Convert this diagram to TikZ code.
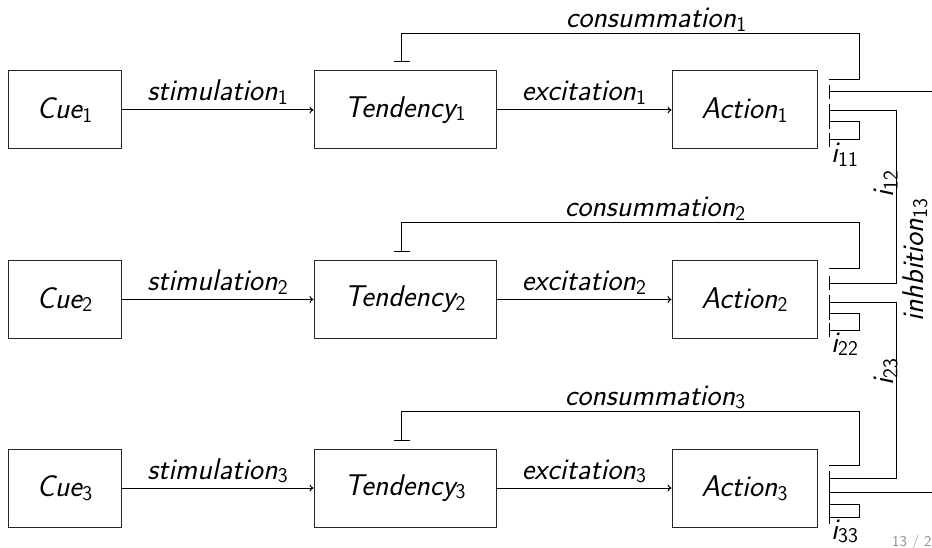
\documentclass[tikz,border=0pt]{standalone}
\usetikzlibrary{arrows.meta,calc}
\newcommand\lab[2]{#1\kern0.3pt\raisebox{-0.12em}{\fontsize{21}{21}\selectfont\upshape #2}}
\begin{document}
\begin{tikzpicture}[x=1pt,y=-1pt,
  txt/.style={font=\fontsize{30}{34}\selectfont\sffamily\slshape, inner sep=0pt},
  box/.style={txt, draw=black!85, line width=1pt, minimum height=78pt},
  conn/.style={line width=1pt, black},
  exc/.style={conn, -{To[length=4pt,width=7pt]}},
  inh/.style={conn, -{Bar[width=16pt,line width=1pt]}},
  inh2/.style={conn, {Bar[width=14pt,line width=1pt]}-{Bar[width=14pt,line width=1pt]}},
  elbl/.style={txt, anchor=base, yshift=9pt}
]
\useasboundingbox (0,0) rectangle (932,548);
\clip (0,0) rectangle (932,548);

% row 1
\node[box, minimum width=113pt] (c1) at (64.5,110) {\lab{Cue}{1}};
\node[box, minimum width=182pt] (t1) at (405,110) {\lab{Tendency}{1}};
\node[box, minimum width=145pt] (a1) at (744.5,110) {\lab{Action}{1}};
% row 2
\node[box, minimum width=113pt] (c2) at (64.5,299.5) {\lab{Cue}{2}};
\node[box, minimum width=182pt] (t2) at (405,299.5) {\lab{Tendency}{2}};
\node[box, minimum width=145pt] (a2) at (744.5,299.5) {\lab{Action}{2}};
% row 3
\node[box, minimum width=113pt] (c3) at (64.5,488) {\lab{Cue}{3}};
\node[box, minimum width=182pt] (t3) at (405,488) {\lab{Tendency}{3}};
\node[box, minimum width=145pt] (a3) at (744.5,488) {\lab{Action}{3}};

\foreach \r in {1,2,3}{
  \draw[exc] (c\r.east) -- node[elbl]{\lab{stimulation}{\r}} (t\r.west);
  \draw[exc] (t\r.east) -- node[elbl]{\lab{excitation}{\r}} (a\r.west);
}

% consummation loops
\coordinate (e1) at ($(t1.north west)+(88,-8)$);
\coordinate (e2) at ($(t2.north west)+(88,-8)$);
\coordinate (e3) at ($(t3.north west)+(88,-8)$);
\draw[inh] (829,80) -- (859,80) |- ($(e1)+(0,-29)$) -- (e1);
\draw[inh] (829,269) -- (859,269) |- ($(e2)+(0,-29)$) -- (e2);
\draw[inh] (829,465) -- (859,465) |- ($(e3)+(0,-29)$) -- (e3);
\node[txt, anchor=base] (k1) at (656,28) {\lab{consummation}{1}};
\node[txt, anchor=base] (k2) at (655,217) {\lab{consummation}{2}};
\node[txt, anchor=base] (k3) at (655,405) {\lab{consummation}{3}};

% self inhibition
\draw[inh2] (829,122) -- (859,122) |- (829,140);
\draw[inh2] (829,313) -- (859,313) |- (829,330);
\draw[inh2] (829,504) -- (859,504) |- (829,517);
\node[txt, anchor=base west] (s1) at (831,163) {\lab{i}{11}};
\node[txt, anchor=base west] (s2) at (831,352) {\lab{i}{22}};
\node[txt, anchor=base west] (s3) at (831,539) {\lab{i}{33}};

% lateral inhibition
\draw[inh2] (829,111) -- (896,111) |- (829,283);
\draw[inh2] (829,302) -- (896,302) |- (829,478);
\draw[inh2] (829,92) -- (950,92) |- (829,492);
\node[txt, rotate=90] (l12) at (886,184) {\lab{i}{12}};
\node[txt, rotate=90] (l23) at (886,372) {\lab{i}{23}};
\node[txt, rotate=90] (l13) at (915,260) {\lab{inhbition}{13}};

\node[anchor=base west, inner sep=0pt, text=black!45, font=\fontsize{15}{15}\selectfont\sffamily] (pg) at (892,546) {13 / 2};
\end{tikzpicture}
\end{document}
